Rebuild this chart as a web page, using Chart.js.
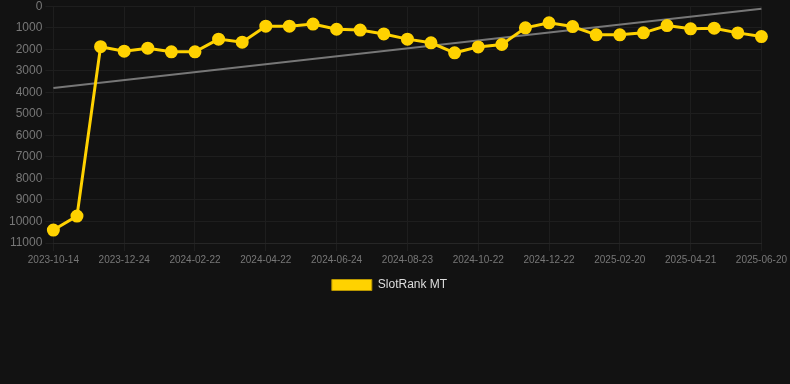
<!DOCTYPE html>
<html><head><meta charset="utf-8">
<script src="https://cdn.jsdelivr.net/npm/chart.js@4"></script>
<style>
html,body{margin:0;padding:0;background:#121212;overflow:hidden;}
#wrap{width:790px;height:305px;position:relative;margin-top:-4px;}
</style></head>
<body>
<div id="wrap"><canvas id="c"></canvas></div>
<script>
const labels = ["2023-10-14","2023-11-06","2023-11-30","2023-12-24","2024-01-13","2024-02-02","2024-02-22","2024-03-13","2024-04-02","2024-04-22","2024-05-13","2024-06-03","2024-06-24","2024-07-14","2024-08-03","2024-08-23","2024-09-12","2024-10-02","2024-10-22","2024-11-11","2024-12-01","2024-12-22","2025-01-11","2025-01-31","2025-02-20","2025-03-12","2025-04-01","2025-04-21","2025-05-11","2025-05-31","2025-06-20"];
const rankValues = [10400,9750,1880,2090,1950,2120,2120,1530,1670,930,930,830,1070,1110,1290,1530,1700,2165,1890,1780,1005,773,945,1330,1330,1237,898,1050,1020,1240,1410];
const trendValues = [3800,null,null,null,null,null,null,null,null,null,null,null,null,null,null,null,null,null,null,null,null,null,null,null,null,null,null,null,null,null,120];
const yTicks = [0,1000,2000,3000,4000,5000,6000,7000,8000,9000,10000,11000];

new Chart(document.getElementById('c'), {
  type: 'line',
  data: {
    labels: labels,
    datasets: [
      {label:'SlotRank MT', data: rankValues, borderColor:'#ffd200', backgroundColor:'#ffd200', borderWidth:3, pointRadius:5, pointHoverRadius:5, tension:0},
      {label:'trend', data: trendValues, borderColor:'#777777', borderWidth:2, pointRadius:0, spanGaps:true, tension:0}
    ]
  },
  options: {
    responsive:true, maintainAspectRatio:false, animation:false,
    layout:{padding:{top:0,right:17,left:6,bottom:0}},
    plugins:{
      legend:{position:'bottom', labels:{color:'#dddddd', boxWidth:40, boxHeight:11, font:{size:12, family:'Liberation Sans, Arial'},
        generateLabels:(chart)=>Chart.defaults.plugins.legend.labels.generateLabels(chart).filter(l=>l.text!=='trend').map(l=>Object.assign(l,{lineWidth:1,strokeStyle:'#b89600'}))}},
      tooltip:{enabled:false}
    },
    scales:{
      x:{grid:{color:'#1e1e1e', tickColor:'#1e1e1e'}, border:{color:'#262626'}, ticks:{color:'#777777', font:{size:10, family:'Liberation Sans, Arial'}, maxRotation:0, autoSkip:true}},
      y:{reverse:true, min:0, max:11000, afterBuildTicks:(s)=>{s.ticks = yTicks.map(v=>({value:v}));}, grid:{color:'#1e1e1e', tickColor:'#1e1e1e'}, border:{display:false},
        ticks:{color:'#777777', callback:(v)=>String(v), font:{size:12, family:'Liberation Sans, Arial'}}}
    }
  }
});
</script>
</body></html>
